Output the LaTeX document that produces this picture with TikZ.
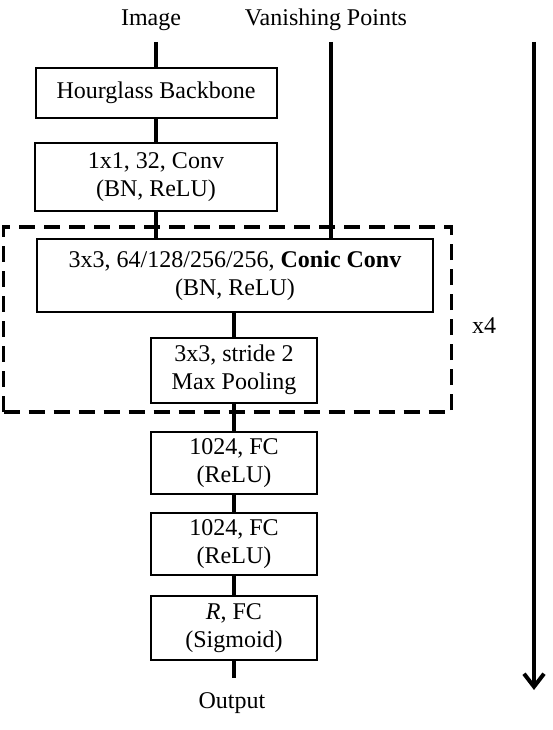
\documentclass[tikz,border=0pt]{standalone}
\usepackage{fontspec}
\setmainfont{Liberation Serif}
\usetikzlibrary{arrows.meta}
\begin{document}
\begin{tikzpicture}[x=1pt,y=-1pt,
  blk/.style={draw, line width=2pt, rectangle, align=center, inner sep=0pt,
    font=\fontsize{24}{28.5}\selectfont},
  lbl/.style={font=\fontsize{24}{29}\selectfont, inner sep=0pt},
  conn/.style={line width=4pt},
  grp/.style={draw, line width=3.5pt, dash pattern=on 16pt off 9pt}]
\useasboundingbox (0,0) rectangle (553,730);
\node[lbl] (img) at (151,20) {Image};
\node[lbl] (vp) at (326,20) {Vanishing Points};
\node[blk, minimum width=241pt, minimum height=50pt] (hg) at (156,93) {Hourglass Backbone};
\node[blk, minimum width=242pt, minimum height=67pt] (conv) at (156,177) {1x1, 32, Conv\\(BN, ReLU)};
\node[blk, minimum width=396pt, minimum height=73pt] (conic) at (235,275.5) {3x3, 64/128/256/256, \textbf{Conic Conv}\\(BN, ReLU)};
\node[blk, minimum width=166pt, minimum height=65pt] (pool) at (234,370) {3x3, stride 2\\Max Pooling};
\node[blk, minimum width=166pt, minimum height=62pt] (fc1) at (234,463) {1024, FC\\(ReLU)};
\node[blk, minimum width=166pt, minimum height=62pt] (fc2) at (234,544) {1024, FC\\(ReLU)};
\node[blk, minimum width=166pt, minimum height=64pt] (rfc) at (234,628) {\textit{R}, FC\\(Sigmoid)};
\node[lbl] (out) at (232,703) {Output};
\node[lbl] (x4) at (484,326) {x4};
\node[grp, minimum width=448pt, minimum height=185pt, inner sep=0pt] (loop) at (227.5,319.5) {};
\coordinate (imgend) at (156,42);
\coordinate (vpend) at (331,42);
\coordinate (outend) at (234,678);
\coordinate (arrtop) at (534,42);
\coordinate (arrbot) at (534,690);
\draw[conn] (imgend) -- (hg.north);
\draw[conn] (vpend) -- (vpend |- conic.north);
\draw[conn] (hg.south) -- (conv.north);
\draw[conn] (conv.south) -- (conv.south |- conic.north);
\draw[conn] (conic.south -| pool.north) -- (pool.north);
\draw[conn] (pool.south) -- (fc1.north);
\draw[conn] (fc1.south) -- (fc2.north);
\draw[conn] (fc2.south) -- (rfc.north);
\draw[conn] (rfc.south) -- (outend);
\draw[conn, -{Straight Barb[length=13pt,width=20pt,line width=4pt]}] (arrtop) -- (arrbot);
\end{tikzpicture}
\end{document}
